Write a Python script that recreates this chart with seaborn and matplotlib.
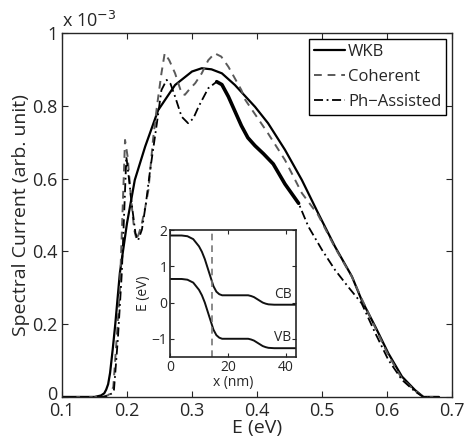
import numpy as np
import pandas as pd
import matplotlib
matplotlib.use("Agg")
import matplotlib.pyplot as plt
import matplotlib.transforms as mtransforms
import seaborn as sns

# spectral current (units of 1e-3, arb. unit) vs E (eV)
wkb_E = [0.100, 0.150, 0.160, 0.165, 0.168, 0.171, 0.174, 0.178, 0.182, 0.189, 0.200,
         0.212, 0.228, 0.248, 0.274, 0.300, 0.315, 0.330, 0.346, 0.366, 0.397, 0.417,
         0.443, 0.469, 0.494, 0.520, 0.546, 0.561, 0.582, 0.602, 0.623, 0.643, 0.656,
         0.680]
wkb_I = [0.0, 0.0, 0.004, 0.01, 0.02, 0.035, 0.066, 0.13, 0.20, 0.34, 0.477,
         0.596, 0.688, 0.788, 0.857, 0.894, 0.903, 0.900, 0.889, 0.857, 0.797, 0.752,
         0.679, 0.596, 0.505, 0.413, 0.331, 0.266, 0.193, 0.12, 0.056, 0.019, 0.0,
         0.0]

coh_E = [0.100, 0.160, 0.170, 0.175, 0.179, 0.184, 0.189, 0.193, 0.197, 0.201, 0.206,
         0.211, 0.215, 0.222, 0.228, 0.233, 0.240, 0.246, 0.253, 0.258, 0.265, 0.274,
         0.284, 0.289, 0.296, 0.305, 0.315, 0.325, 0.335, 0.345, 0.356, 0.376, 0.382,
         0.417, 0.443, 0.469, 0.494, 0.520, 0.546, 0.561, 0.582, 0.602, 0.623, 0.643,
         0.656, 0.680]
coh_I = [0.0, 0.0, 0.004, 0.01, 0.028, 0.157, 0.294, 0.50, 0.706, 0.66, 0.55,
         0.46, 0.431, 0.47, 0.52, 0.569, 0.706, 0.797, 0.889, 0.944, 0.925, 0.889,
         0.834, 0.83, 0.845, 0.862, 0.889, 0.925, 0.944, 0.935, 0.907, 0.843, 0.816,
         0.724, 0.651, 0.56, 0.50, 0.41, 0.33, 0.27, 0.19, 0.115, 0.05, 0.017,
         0.0, 0.0]

ph_E = [0.100, 0.165, 0.172, 0.177, 0.180, 0.186, 0.192, 0.196, 0.199, 0.203, 0.208,
        0.213, 0.217, 0.223, 0.229, 0.235, 0.246, 0.253, 0.261, 0.267, 0.274, 0.284,
        0.294, 0.302, 0.310, 0.325, 0.338, 0.346, 0.356, 0.366, 0.376, 0.386, 0.397,
        0.410, 0.425, 0.443, 0.464, 0.479, 0.500, 0.520, 0.540, 0.561, 0.582, 0.602,
        0.623, 0.643, 0.656, 0.680]
ph_I = [0.0, 0.0, 0.005, 0.01, 0.02, 0.16, 0.34, 0.52, 0.66, 0.60, 0.52,
        0.45, 0.43, 0.46, 0.53, 0.615, 0.752, 0.843, 0.871, 0.86, 0.825, 0.77,
        0.752, 0.765, 0.797, 0.848, 0.866, 0.858, 0.825, 0.785, 0.745, 0.712, 0.69,
        0.668, 0.64, 0.585, 0.532, 0.468, 0.404, 0.349, 0.303, 0.257, 0.175, 0.102,
        0.047, 0.015, 0.0, 0.0]

# inset: band profile
band_x = [0, 2, 4, 6, 8, 10, 11, 12, 13, 14, 15, 16, 17, 18, 20, 22, 25, 27, 28,
          29, 30, 31, 32, 33, 34, 36, 38, 40, 43.5]
cb = [1.85, 1.85, 1.85, 1.83, 1.75, 1.55, 1.40, 1.20, 0.95, 0.70, 0.45, 0.30, 0.23,
      0.20, 0.20, 0.20, 0.20, 0.20, 0.18, 0.15, 0.10, 0.05, 0.0, -0.03, -0.05,
      -0.06, -0.06, -0.06, -0.06]
vb = [0.65, 0.65, 0.65, 0.63, 0.55, 0.35, 0.20, 0.0, -0.25, -0.50, -0.75, -0.90,
      -0.97, -1.0, -1.0, -1.0, -1.0, -1.0, -1.02, -1.05, -1.10, -1.15, -1.20,
      -1.23, -1.25, -1.26, -1.26, -1.26, -1.26]
x_split = 14.5

sns.set_style("ticks")
plt.rcParams['font.family'] = ['Open Sans', 'DejaVu Sans']
plt.rcParams['xtick.direction'] = 'in'
plt.rcParams['ytick.direction'] = 'in'

fig = plt.figure(figsize=(4.66, 4.45), dpi=100)
ax = fig.add_axes([0.133, 0.108, 0.837, 0.818])

sns.lineplot(x=wkb_E, y=wkb_I, ax=ax, color='black', lw=1.6, label='WKB')
sns.lineplot(x=coh_E, y=coh_I, ax=ax, color='#5a5a5a', lw=1.4, label='Coherent')
sns.lineplot(x=ph_E, y=ph_I, ax=ax, color='black', lw=1.3, label='Ph\u2212Assisted')
lines = ax.get_lines()
lines[1].set_linestyle((0, (4, 3)))
lines[2].set_linestyle((0, (5, 2, 1, 2)))

# the phonon-assisted curve is drawn heavy where its data are dense
ph = pd.DataFrame({'E': ph_E, 'I': ph_I})
dense = ph[(ph.E >= 0.338) & (ph.E <= 0.466)]
ax.plot(dense.E, dense.I, color='black', lw=2.6, solid_capstyle='round')

ax.set_xlim(0.1, 0.7)
ax.set_ylim(0, 1)
ax.set_xticks([0.1, 0.2, 0.3, 0.4, 0.5, 0.6, 0.7])
ax.set_yticks([0, 0.2, 0.4, 0.6, 0.8, 1])
ax.set_yticklabels(['0', '0.2', '0.4', '0.6', '0.8', '1'])
ax.tick_params(labelsize=13, top=True, right=True, length=4, width=0.8)
ax.tick_params(axis='x', pad=4)
ax.tick_params(axis='y', pad=3)
ax.set_xlabel('E (eV)', fontsize=14, labelpad=-1)
ax.set_ylabel('Spectral Current (arb. unit)', fontsize=14, labelpad=2)
for s in ax.spines.values():
    s.set_linewidth(1.0)
ax.text(0.0, 1.005, 'x 10$^{-3}$', transform=ax.transAxes, fontsize=13,
        ha='left', va='bottom')

# nudge the "0" label up a little so it clears "0.1"
zero = ax.yaxis.get_major_ticks()[0].label1
zero.set_transform(zero.get_transform() +
                   mtransforms.ScaledTranslation(0, 3 / 72, fig.dpi_scale_trans))

leg = ax.legend(loc='upper right', fontsize=12, frameon=True, fancybox=False,
                handlelength=1.9, handletextpad=0.15, borderpad=0.3,
                labelspacing=0.55, borderaxespad=0.35)
leg.get_frame().set_edgecolor('black')
leg.get_frame().set_linewidth(1.0)
leg.get_frame().set_alpha(1)

# inset
axi = fig.add_axes([0.365, 0.198, 0.270, 0.285])
sns.lineplot(x=band_x, y=cb, ax=axi, color='#111111', lw=1.4)
sns.lineplot(x=band_x, y=vb, ax=axi, color='#111111', lw=1.4)
axi.axvline(x_split, color='#777777', lw=1.2, ls=(0, (4, 3)))
axi.text(42, 0.02, 'CB', fontsize=10, ha='right', va='bottom')
axi.text(42, -1.18, 'VB', fontsize=10, ha='right', va='bottom')
axi.set_xlim(0, 43.5)
axi.set_ylim(-1.5, 2)
axi.set_xticks([0, 20, 40])
axi.set_yticks([-1, 0, 1, 2])
axi.set_yticklabels(['\u22121', '0', '1', '2'])
axi.tick_params(labelsize=10, top=True, right=True, length=3, width=0.8, pad=2)
axi.set_xlabel('x (nm)', fontsize=10, labelpad=0)
axi.set_ylabel('E (eV)', fontsize=10, labelpad=0)
for s in axi.spines.values():
    s.set_linewidth(1.2)

fig.savefig('out.png', dpi=100)
